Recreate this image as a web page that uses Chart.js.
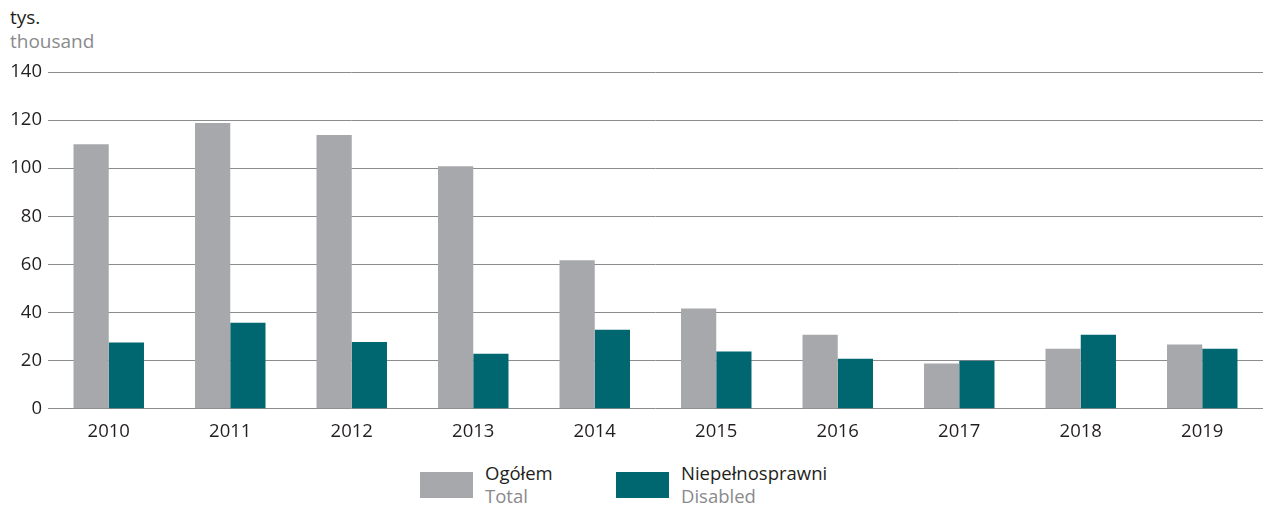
<!DOCTYPE html>
<html>
<head>
<meta charset="utf-8">
<script src="https://cdn.jsdelivr.net/npm/chart.js@4/dist/chart.umd.min.js"></script>
<style>
  body { margin: 0; background: #fff; font-family: "Open Sans", sans-serif; }
  #wrap { position: relative; width: 1263px; height: 506px; overflow: hidden; }
  #chartBox { position: absolute; left: 0; top: 0; width: 1263px; height: 447px; }
  .unit { position: absolute; left: 10px; font-size: 19px; line-height: 22px; }
  .box { position: absolute; width: 53px; height: 26px; top: 472px; }
  .lbl { position: absolute; top: 461px; font-size: 18.5px; line-height: 23px; color: #231f20; }
  .lbl span { display: block; color: #8a8a8d; }
</style>
</head>
<body>
<div id="wrap">
  <div class="unit" style="top:6px;color:#231f20">tys.</div>
  <div class="unit" style="top:30px;color:#8a8a8d">thousand</div>
  <div id="chartBox"><canvas id="barChart"></canvas></div>
  <div class="box" style="left:420px;background:#a7a8ab"></div>
  <div class="lbl" style="left:485px">Ogółem<span>Total</span></div>
  <div class="box" style="left:616px;background:#00666f"></div>
  <div class="lbl" style="left:681px">Niepełnosprawni<span>Disabled</span></div>
</div>
<script>
const years = ["2010", "2011", "2012", "2013", "2014", "2015", "2016", "2017", "2018", "2019"];
const totalValues = [110, 118.8, 113.8, 100.8, 61.7, 41.7, 30.8, 18.8, 25, 26.7];
const disabledValues = [27.6, 35.8, 27.8, 22.9, 32.9, 23.8, 20.8, 20, 30.8, 25];
const yTicks = [0, 20, 40, 60, 80, 100, 120, 140];

const ctx = document.getElementById("barChart").getContext("2d");
new Chart(ctx, {
  type: "bar",
  data: {
    labels: years,
    datasets: [
      { label: "Ogółem", data: totalValues, backgroundColor: "#a7a8ab" },
      { label: "Niepełnosprawni", data: disabledValues, backgroundColor: "#00666f" }
    ]
  },
  options: {
    responsive: true,
    maintainAspectRatio: false,
    animation: false,
    layout: { padding: { top: 72, right: 0, left: 0, bottom: 0 } },
    plugins: { legend: { display: false }, tooltip: { enabled: false } },
    datasets: { bar: { categoryPercentage: 0.58, barPercentage: 1.0 } },
    scales: {
      x: {
        grid: { display: false },
        border: { display: false },
        ticks: { color: "#231f20", font: { family: "Open Sans", size: 18.5 }, padding: 4 }
      },
      y: {
        min: 0,
        max: 140,
        afterFit: s => { s.width = 48; },
        afterBuildTicks: s => { s.ticks = yTicks.map(v => ({ value: v })); },
        border: { display: false },
        grid: { color: "#8c8c8c", lineWidth: 1, tickLength: 0 },
        ticks: { color: "#231f20", font: { family: "Open Sans", size: 18.5 }, padding: 6 }
      }
    }
  }
});
</script>
</body>
</html>
